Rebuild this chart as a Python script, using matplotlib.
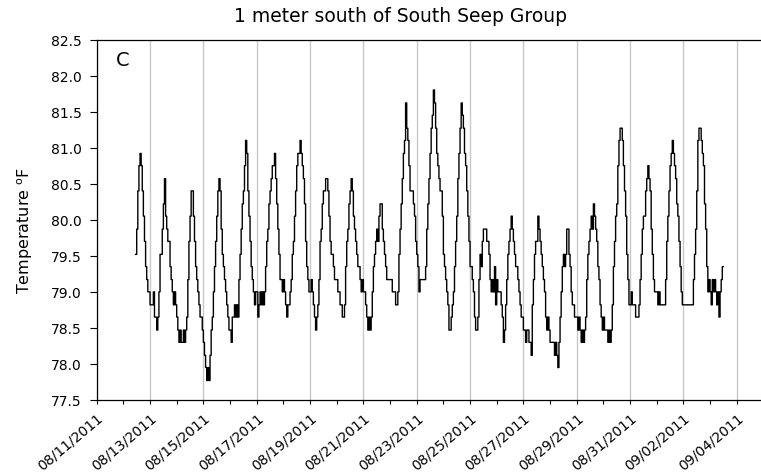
import numpy as np
import pandas as pd
import matplotlib
matplotlib.use("Agg")
import matplotlib.pyplot as plt
import matplotlib.dates as mdates
from matplotlib.ticker import FixedLocator, FormatStrFormatter

plt.rcParams['font.family'] = ['DejaVu Sans']

title = "1 meter south of South Seep Group"
panel = "C"
ylabel = "Temperature $^{\\rm o}$F"
start = "2011-08-12 11:00"   # first hourly reading
x_from, x_to = "2011-08-11", "2011-09-05"
yticks = [77.5, 78.0, 78.5, 79.0, 79.5, 80.0, 80.5, 81.0, 81.5, 82.0, 82.5]

# hourly readings (deg F), one row per day
temp_f = [
    # 08/12 from 11:00
    79.52, 79.87, 80.40, 80.75, 80.92, 80.75, 80.40, 80.05, 79.70, 79.35, 79.17, 79.00, 79.00,
    # 08/13
    78.82, 78.82, 78.82, 79.00, 78.65, 78.65, 78.47, 78.65, 79.00, 79.52, 79.52, 79.87,
    80.22, 80.57, 80.05, 79.87, 79.70, 79.70, 79.35, 79.17, 79.00, 78.82, 79.00, 78.82,
    # 08/14
    78.65, 78.47, 78.30, 78.47, 78.30, 78.30, 78.47, 78.30, 78.47, 78.65, 79.17, 79.70,
    80.05, 80.40, 80.40, 80.05, 79.70, 79.35, 79.17, 79.00, 78.82, 78.65, 78.65, 78.47,
    # 08/15
    78.30, 78.12, 77.95, 77.77, 77.95, 77.77, 78.12, 78.47, 78.65, 79.00, 79.35, 79.70,
    80.05, 80.40, 80.57, 80.40, 79.87, 79.52, 79.35, 79.17, 79.00, 78.82, 78.65, 78.47,
    # 08/16
    78.47, 78.30, 78.65, 78.65, 78.82, 78.65, 78.82, 78.65, 79.17, 79.52, 79.87, 80.22,
    80.40, 80.75, 81.10, 80.92, 80.40, 80.05, 79.70, 79.35, 79.17, 79.00, 78.82, 79.00,
    # 08/17
    79.00, 78.65, 78.82, 79.00, 78.82, 79.00, 78.82, 79.00, 79.35, 79.70, 79.87, 80.22,
    80.40, 80.57, 80.75, 80.75, 80.92, 80.57, 80.22, 79.87, 79.52, 79.17, 79.17, 79.00,
    # 08/18
    79.17, 79.00, 78.82, 78.65, 78.82, 78.82, 79.00, 79.17, 79.52, 79.70, 80.05, 80.40,
    80.75, 80.92, 80.92, 81.10, 80.92, 80.75, 80.57, 80.22, 79.70, 79.35, 79.17, 79.00,
    # 08/19
    79.00, 79.17, 79.00, 78.82, 78.65, 78.47, 78.65, 78.82, 79.17, 79.70, 79.87, 80.22,
    80.40, 80.40, 80.57, 80.57, 80.40, 80.05, 79.70, 79.52, 79.52, 79.35, 79.17, 79.17,
    # 08/20
    79.17, 79.00, 79.00, 78.82, 78.82, 78.65, 78.65, 78.82, 79.35, 79.70, 79.87, 80.22,
    80.40, 80.57, 80.40, 80.05, 79.87, 79.70, 79.52, 79.35, 79.35, 79.17, 79.00, 79.17,
    # 08/21
    79.00, 79.00, 78.82, 78.65, 78.47, 78.65, 78.47, 78.65, 79.00, 79.35, 79.52, 79.70,
    79.87, 79.70, 80.05, 80.22, 80.22, 79.87, 79.70, 79.52, 79.35, 79.17, 79.17, 79.17,
    # 08/22
    79.17, 79.17, 79.00, 79.00, 79.00, 78.82, 78.82, 79.00, 79.52, 79.87, 80.22, 80.57,
    80.92, 81.10, 81.62, 81.27, 81.10, 80.75, 80.40, 80.40, 80.40, 80.22, 80.05, 79.70,
    # 08/23
    79.52, 79.35, 79.00, 79.17, 79.17, 79.17, 79.17, 79.17, 79.35, 79.87, 80.22, 80.57,
    80.92, 81.27, 81.45, 81.80, 81.62, 81.27, 80.92, 80.75, 80.57, 80.40, 80.40, 80.05,
    # 08/24
    79.52, 79.35, 79.17, 79.00, 78.82, 78.47, 78.47, 78.65, 78.82, 79.00, 79.35, 79.70,
    80.05, 80.57, 80.92, 81.27, 81.62, 81.45, 81.27, 80.92, 80.75, 80.40, 80.05, 79.70,
    # 08/25
    79.35, 79.35, 79.17, 79.00, 78.65, 78.47, 78.47, 78.65, 79.17, 79.52, 79.35, 79.70,
    79.87, 79.87, 79.87, 79.70, 79.70, 79.52, 79.17, 79.00, 79.17, 79.00, 79.35, 78.82,
    # 08/26
    79.17, 79.00, 79.00, 79.00, 78.82, 78.65, 78.30, 78.47, 78.82, 79.17, 79.52, 79.70,
    79.87, 80.05, 79.87, 79.70, 79.52, 79.35, 79.35, 79.17, 79.00, 78.82, 78.65, 78.65,
    # 08/27
    78.47, 78.47, 78.30, 78.47, 78.47, 78.30, 78.30, 78.12, 78.82, 79.17, 79.52, 79.70,
    79.70, 80.05, 79.87, 79.70, 79.52, 79.35, 79.17, 79.00, 78.65, 78.47, 78.65, 78.47,
    # 08/28
    78.30, 78.30, 78.30, 78.30, 78.12, 78.30, 78.12, 77.95, 78.30, 78.65, 79.00, 79.35,
    79.52, 79.35, 79.52, 79.87, 79.87, 79.52, 79.35, 79.00, 78.82, 78.82, 78.65, 78.65,
    # 08/29
    78.65, 78.47, 78.65, 78.47, 78.30, 78.47, 78.30, 78.47, 78.65, 79.17, 79.52, 79.70,
    79.87, 80.05, 79.87, 80.22, 80.05, 79.87, 79.70, 79.35, 79.17, 78.82, 78.65, 78.47,
    # 08/30
    78.65, 78.47, 78.47, 78.47, 78.30, 78.47, 78.30, 78.47, 78.82, 79.35, 79.70, 80.05,
    80.22, 80.75, 81.10, 81.27, 81.27, 81.10, 80.75, 80.40, 80.05, 79.52, 79.17, 78.82,
    # 08/31
    78.82, 79.00, 78.82, 78.82, 78.82, 78.65, 78.65, 78.65, 78.82, 79.17, 79.52, 79.87,
    80.05, 80.05, 80.40, 80.57, 80.75, 80.57, 80.40, 79.87, 79.52, 79.17, 79.00, 79.00,
    # 09/01
    79.00, 78.82, 79.00, 78.82, 78.82, 78.82, 78.82, 78.82, 79.17, 79.70, 80.05, 80.40,
    80.75, 80.92, 81.10, 80.92, 80.75, 80.57, 80.22, 80.05, 79.70, 79.35, 79.00, 78.82,
    # 09/02
    78.82, 78.82, 78.82, 78.82, 78.82, 78.82, 78.82, 78.82, 78.82, 79.17, 79.52, 79.87,
    80.40, 81.10, 81.27, 81.27, 81.10, 80.92, 80.75, 80.22, 79.87, 79.35, 79.00, 79.17,
    # 09/03 to 12:00
    79.00, 78.82, 79.17, 79.00, 79.17, 79.00, 78.82, 79.00, 78.65, 79.00, 79.17, 79.35, 79.35,
]

times = pd.date_range(start, periods=len(temp_f), freq="h")
tick_dates = pd.date_range("2011-08-11", "2011-09-04", freq="2D")

W, H = 761, 477
fig = plt.figure(figsize=(W / 100, H / 100), dpi=100)
ax = fig.add_axes([96.7 / W, 76 / H, 666.7 / W, 360.5 / H])

ax.plot(times, temp_f, color="black", lw=1.0, drawstyle="steps-post", zorder=3)

ax.set_xlim(pd.Timestamp(x_from), pd.Timestamp(x_to))
ax.set_ylim(77.5, 82.5)
ax.set_yticks(yticks)
ax.yaxis.set_major_formatter(FormatStrFormatter("%.1f"))

ax.xaxis.set_major_locator(FixedLocator(mdates.date2num(tick_dates)))
ax.xaxis.set_minor_locator(mdates.DayLocator())
ax.xaxis.set_major_formatter(mdates.DateFormatter("%m/%d/%Y"))

ax.grid(axis="x", which="major", color="#c8c8c8", lw=1.0)
ax.set_axisbelow(True)
ax.spines["right"].set_visible(False)
for s in ["left", "top", "bottom"]:
    ax.spines[s].set_linewidth(0.9)

ax.tick_params(axis="y", direction="out", length=4.7, width=0.8, pad=6, labelsize=10)
ax.tick_params(axis="x", which="major", direction="out", length=3.1, width=0.8, pad=4, labelsize=10)
ax.tick_params(axis="x", which="minor", direction="out", length=2.6, width=0.8)
plt.setp(ax.get_xticklabels(), rotation=40, ha="right", va="top", rotation_mode="anchor")

fig.text(400 / W, 1 - 17 / H, title, ha="center", va="center", fontsize=13.5)
fig.text(123 / W, 1 - 61 / H, panel, ha="center", va="center", fontsize=14)
fig.text(25 / W, 1 - 230 / H, ylabel, ha="center", va="center", rotation=90, fontsize=11.5)

fig.savefig("out.png", dpi=100)
